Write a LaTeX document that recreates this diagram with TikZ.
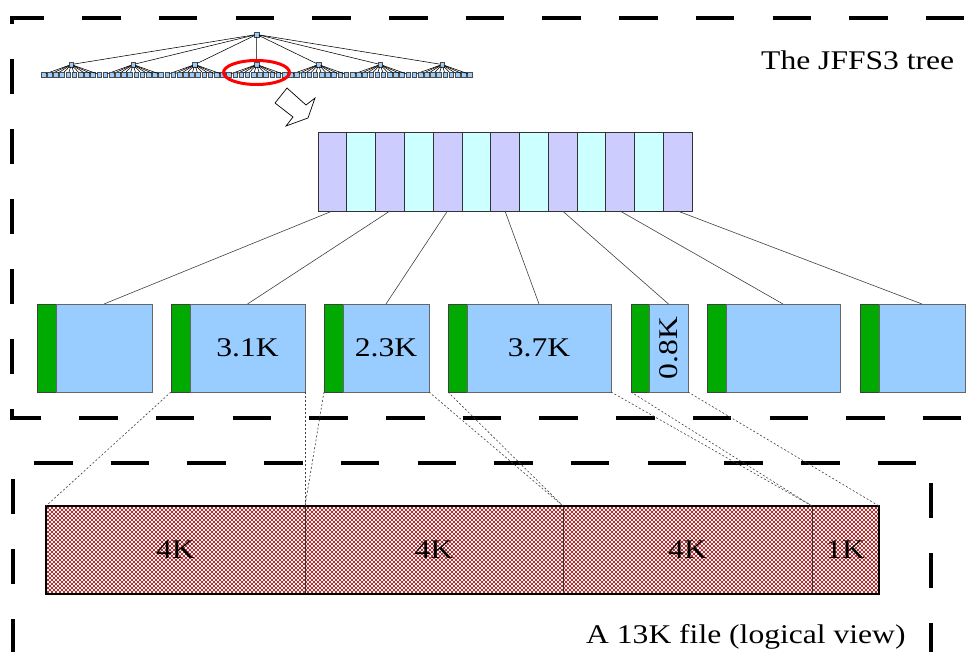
\documentclass[tikz,border=0pt]{standalone}
\usepackage{fontspec}
\setmainfont{Liberation Serif}[FakeStretch=1.17]
\usetikzlibrary{shapes.geometric}
\definecolor{lav}{HTML}{CCCCFF}
\definecolor{lcyan}{HTML}{CCFFFF}
\definecolor{tblue}{HTML}{99CCFF}
\definecolor{dgreen}{HTML}{00AA00}
\definecolor{hatch}{HTML}{A00808}
\tikzset{
  frame/.style={line width=3.2pt, black},
  hdash/.style={dash pattern=on 38.5pt off 38.2pt},
  vdash/.style={dash pattern=on 35pt off 35pt},
  tsq/.style={draw=black!70, fill=tblue, minimum size=4.6pt, inner sep=0pt, outer sep=0pt, line width=0.5pt},
  tline/.style={line width=0.55pt, black},
  cell/.style={draw=black!80, minimum width=28.77pt, minimum height=79pt, inner sep=0pt, outer sep=0pt, line width=0.6pt},
  gbox/.style={draw=black!75, fill=dgreen, minimum height=88pt, inner sep=0pt, outer sep=0pt, line width=0.6pt},
  bbox/.style={draw=black!60, fill=tblue, minimum height=88pt, inner sep=0pt, outer sep=0pt, line width=0.6pt},
  lab/.style={font=\fontsize{27pt}{31pt}\selectfont, inner sep=0pt},
  hatchline/.style={line width=0.6pt, hatch},
  fcell/.style={draw=black!80, line width=0.8pt, inner sep=0pt, outer sep=0pt, minimum height=88pt, font=\fontsize{27pt}{31pt}\selectfont},
  conn/.style={line width=0.6pt, black!75},
  dconn/.style={line width=0.6pt, black!75, dash pattern=on 2pt off 2pt}
}
\begin{document}
\begin{tikzpicture}[x=1pt,y=-1pt]
\useasboundingbox (0,0) rectangle (979,652);
\clip (0,0) rectangle (979,652);
% frames
\draw[frame, hdash, dash phase=4.9pt] (10.4,18) -- (1000,18);
\draw[frame, vdash, dash phase=29pt] (12,18) -- (12,418);
\draw[frame, hdash, dash phase=7.9pt] (10.4,418) -- (1000,418);
\draw[frame, hdash, dash phase=55.7pt] (13,463) -- (931,463);
\draw[frame, vdash, dash phase=54pt] (13,463) -- (13,670);
\draw[frame, vdash, dash phase=50pt] (931,463) -- (931,670);
% tree
\node[tsq] (r) at (256.7,34.5) {};
\foreach \i in {0,...,6} {
  \pgfmathsetmacro\cx{71.3+61.8*\i}
  \node[tsq] (c\i) at (\cx,64.5) {};
  \draw[tline] (r) -- (c\i);
  \foreach \j in {0,...,9} {
    \node[tsq] (l\i-\j) at ({\cx+(\j-4.5)*6.17},74.5) {};
    \draw[tline] (c\i) -- (l\i-\j);
  }
}
\node[draw=red, line width=3pt, ellipse, minimum width=66pt, minimum height=24pt, inner sep=0pt] (sel) at (256.5,72.5) {};
% block arrow
\draw[fill=white, line width=0.7pt, line join=miter] (275,103) -- (287,88) -- (306,105) -- (315,98) -- (308,118) -- (286,126) -- (293,117) -- cycle;
% index node cells
\foreach \k in {0,...,12} {
  \ifodd\k \def\cc{lcyan}\else \def\cc{lav}\fi
  \node[cell, fill=\cc] (cell\k) at ({318+28.77*(\k+0.5)},171.5) {};
}
% data node boxes
\foreach \n/\a/\b/\c in {1/37/56/152, 2/171/190/305, 3/324/343/429, 4/448/467/611, 5/631/649/688, 6/707/726/840, 7/860/879/965} {
  \pgfmathsetmacro\wg{\b-\a}
  \pgfmathsetmacro\wb{\c-\b}
  \pgfmathsetmacro\xg{(\a+\b)/2}
  \pgfmathsetmacro\xb{(\b+\c)/2}
  \node[gbox, minimum width=\wg pt] (g\n) at (\xg,348) {};
  \node[bbox, minimum width=\wb pt] (b\n) at (\xb,348) {};
}
\node[lab] (t2) at (b2.center) {3.1K};
\node[lab] (t3) at (b3.center) {2.3K};
\node[lab] (t4) at (b4.center) {3.7K};
\node[lab, rotate=90] (t5) at (b5.center) {0.8K};
% connectors from index node
\draw[conn] (cell0.south) -- (b1.north);
\draw[conn] (cell2.south) -- (b2.north);
\draw[conn] (cell4.south) -- (b3.north);
\draw[conn] (cell6.south) -- (b4.north);
\draw[conn] (cell8.south) -- (b5.north);
\draw[conn] (cell10.south) -- (b6.north);
\draw[conn] (cell12.south) -- (b7.north);
% file: cross hatching
\begin{scope}
  \clip (46,506) rectangle (879,594);
  \foreach \m in {0,...,232} {
    \pgfmathsetmacro\xs{46-88+4*\m}
    \draw[hatchline] (\xs,594) -- ++(88,-88);
    \draw[hatchline] (\xs,506) -- ++(88,88);
  }
\end{scope}
\node[fcell, minimum width=259pt] (f1) at (175.5,550) {4K};
\node[fcell, minimum width=258pt] (f2) at (434,550) {4K};
\node[fcell, minimum width=249pt] (f3) at (687.5,550) {4K};
\node[fcell, minimum width=67pt] (f4) at (845.5,550) {1K};
\draw[line width=2.6pt] (f1.north west) rectangle (f4.south east);
% dashed mapping lines
\draw[dconn] (g2.south west) -- (f1.north west);
\draw[dconn] (b2.south east) -- (f2.north west);
\draw[dconn] (g3.south west) -- (f2.north west);
\draw[dconn] (b3.south east) -- (f3.north west);
\draw[dconn] (g4.south west) -- (f3.north west);
\draw[dconn] (b4.south east) -- (f4.north west);
\draw[dconn] (g5.south west) -- (f4.north west);
\draw[dconn] (b5.south east) -- (f4.north east);
% labels
\node[lab, anchor=base west] (title) at (761,70) {The JFFS3 tree};
\node[lab, anchor=base west] (cap) at (586,643) {A 13K file (logical view)};
\end{tikzpicture}
\end{document}
